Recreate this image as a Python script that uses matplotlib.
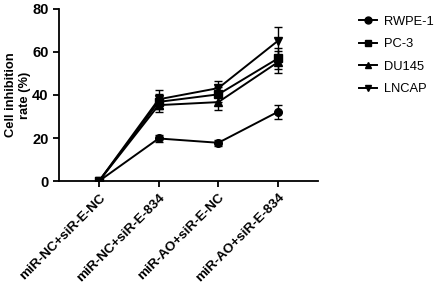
import numpy as np
import matplotlib.pyplot as plt
from matplotlib.lines import Line2D

plt.rcParams['font.family'] = ['Liberation Sans', 'DejaVu Sans']

groups = ['miR-NC+siR-E-NC', 'miR-NC+siR-E-834', 'miR-AO+siR-E-NC', 'miR-AO+siR-E-834']
series = ['RWPE-1', 'PC-3', 'DU145', 'LNCAP']
markers = ['o', 's', '^', 'v']

rwpe = [0, 19.8, 17.8, 32.2]
rwpe_err = [0, 1.8, 1.5, 3.2]
pc3 = [0, 36.8, 40.3, 57.0]
pc3_err = [0, 3.5, 3.5, 5.0]
du145 = [0, 35.3, 36.7, 55.3]
du145_err = [0, 3.0, 3.7, 5.0]
lncap = [0, 38.0, 43.2, 65.2]
lncap_err = [0, 4.2, 3.5, 6.4]

values = [rwpe, pc3, du145, lncap]
errors = [rwpe_err, pc3_err, du145_err, lncap_err]

fig = plt.figure(figsize=(4.42, 2.87), dpi=100)
ax = fig.add_axes([0.1335, 0.369, 0.586, 0.600])

x = np.arange(len(groups))
for name, m, v, e in zip(series, markers, values, errors):
    ax.errorbar(x, v, yerr=e, marker=m, markersize=5.5, color='black',
                linewidth=1.4, elinewidth=1.0, capsize=3, capthick=1.0, label=name)

ax.set_xlim(-0.67, 3.67)
ax.set_ylim(0, 80)
ax.set_yticks([0, 20, 40, 60, 80])
ax.set_xticks(x)
ax.set_xticklabels(groups, rotation=45, ha='right', rotation_mode='anchor',
                   fontsize=9.7, fontweight='bold')
for lab in ax.get_yticklabels():
    lab.set_fontweight('bold')
    lab.set_fontsize(10.5)
ax.set_ylabel('Cell inhibition\nrate (%)', fontsize=9.3, fontweight='bold', labelpad=1)
ax.spines['top'].set_visible(False)
ax.spines['right'].set_visible(False)
ax.spines['left'].set_linewidth(1.3)
ax.spines['bottom'].set_linewidth(1.3)
ax.tick_params(width=1.3, length=4)

handles = [Line2D([], [], color='black', marker=m, markersize=5, linewidth=1.4)
           for m in markers]
fig.legend(handles, series, loc='upper left', bbox_to_anchor=(0.785, 0.985),
           frameon=False, fontsize=9.3, handlelength=1.4, handletextpad=0.6,
           labelspacing=0.8)

fig.savefig('out.png', dpi=100)
